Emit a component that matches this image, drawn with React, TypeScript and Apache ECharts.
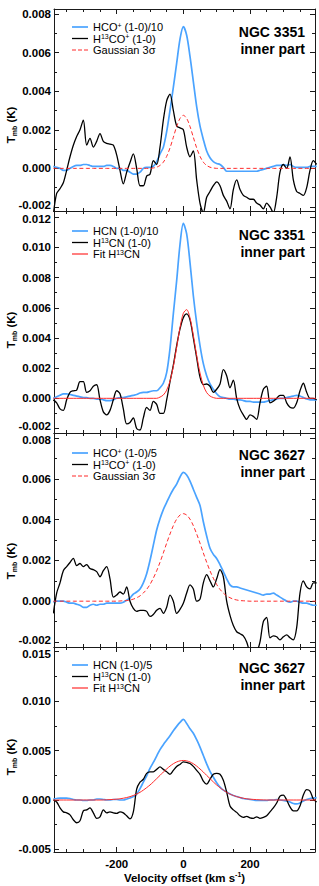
import React, { useEffect, useRef } from 'react';
import * as echarts from 'echarts';

// Velocity grid (km/s)
const VELOCITY = [
  -390, -380, -370, -360, -350, -340, -330, -320, -310, -300,
  -290, -280, -270, -260, -250, -240, -230, -220, -210, -200,
  -190, -180, -170, -160, -150, -140, -130, -120, -110, -100,
  -90, -80, -70, -60, -50, -40, -30, -20, -10, 0,
  10, 20, 30, 40, 50, 60, 70, 80, 90, 100,
  110, 120, 130, 140, 150, 160, 170, 180, 190, 200,
  210, 220, 230, 240, 250, 260, 270, 280, 290, 300,
  310, 320, 330, 340, 350, 360, 370, 380, 390, 400,
];

// Values in units of 0.001 K
// Panel 1: NGC 3351, HCO+ / H13CO+
const P1_HCOP = [
  0.1, 0.05, 0.0, -0.1, -0.1, 0.0, 0.1, 0.15, 0.15, 0.2,
  0.2, 0.15, 0.1, 0.1, 0.1, 0.1, 0.15, 0.15, 0.1, 0.0,
  0.0, -0.1, -0.1, -0.2, -0.3, -0.3, -0.2, 0.0, 0.05, 0.05,
  0.1, 0.35, 0.75, 1.1, 1.9, 3.0, 4.2, 5.45, 6.7, 7.35,
  6.9, 5.8, 4.5, 3.2, 2.2, 1.5, 0.9, 0.55, 0.35, 0.25,
  0.2, 0.05, -0.15, -0.15, -0.15, -0.15, -0.15, -0.15, -0.15, -0.15,
  -0.15, -0.15, -0.1, -0.05, 0.0, 0.05, 0.1, 0.15, 0.15, 0.2,
  0.15, 0.2, 0.1, 0.05, 0.05, 0.05, 0.05, 0.1, 0.1, 0.1,
];
const P1_H13COP = [
  -2.4, -1.3, -1.05, -0.75, -0.1, 0.6, 1.2, 1.65, 2.0, 2.5,
  1.2, 1.55, 1.1, 1.4, 1.8, 1.4, 1.3, 1.25, 1.2, 0.7,
  -0.1, -0.8, -0.2, 0.3, 0.75, 0.0, -0.9, -0.9, -0.4, -0.3,
  0.4, 0.2, 1.1, 2.5, 3.5, 3.85, 3.0, 2.2, 2.1, 2.0,
  1.1, 0.6, 0.9, -0.6, -1.8, -2.3, -1.5, -1.2, -0.9, -0.7,
  -0.9, -1.4, -1.7, -2.1, -1.1, -0.6, -1.1, -1.4, -1.5, -1.6,
  -1.6, -1.8, -1.9, -2.1, -1.8, -2.0, -2.3, -1.5, -0.2, 0.2,
  0.0, 0.6, -0.6, -1.2, -1.3, -1.4, -1.0, -0.1, 0.4, 0.2,
];
const P1_GAUSS = [
  0, 0, 0, 0, 0, 0, 0, 0, 0, 0,
  0, 0, 0, 0, 0, 0, 0, 0, 0, 0,
  0, 0, 0, 0, 0, 0, 0, 0, 0, 0,
  0.02, 0.06, 0.15, 0.32, 0.62, 1.06, 1.61, 2.17, 2.59, 2.75,
  2.59, 2.17, 1.61, 1.06, 0.62, 0.32, 0.15, 0.06, 0.02, 0,
  0, 0, 0, 0, 0, 0, 0, 0, 0, 0,
  0, 0, 0, 0, 0, 0, 0, 0, 0, 0,
  0, 0, 0, 0, 0, 0, 0, 0, 0, 0,
];

// Panel 2: NGC 3351, HCN / H13CN
const P2_HCN = [
  0.0, 0.1, 0.2, 0.3, 0.3, 0.25, 0.2, 0.15, 0.1, 0.05,
  0.05, 0.0, 0.0, -0.05, -0.05, -0.1, -0.15, -0.15, -0.1, 0.0,
  0.05, 0.05, 0.1, 0.15, 0.2, 0.25, 0.35, 0.4, 0.4, 0.45,
  0.5, 0.5, 0.7, 1.0, 1.7, 3.3, 5.6, 7.8, 10.2, 11.6,
  10.9, 9.0, 6.8, 5.0, 3.5, 2.3, 1.5, 0.95, 0.6, 0.3,
  0.1, 0.05, 0.0, -0.05, -0.05, -0.1, -0.1, -0.15, -0.2, -0.2,
  -0.25, -0.25, -0.25, -0.25, -0.2, -0.15, -0.1, -0.05, 0.0, 0.0,
  0.05, 0.1, 0.15, 0.2, 0.15, 0.05, -0.05, -0.1, -0.1, -0.1,
];
const P2_H13CN = [
  -0.1, -0.3, -0.7, -0.8, -0.1, 0.4, 0.5, 0.55, 1.1, 1.1,
  0.4, 0.5, 0.8, 0.9, -0.1, -0.9, -1.1, -0.8, -0.1, 0.5,
  0.3, -0.7, -1.7, -1.6, -1.3, -2.0, -2.1, -1.3, -0.6, -0.8,
  -0.2, -0.4, -1.0, -1.0, -0.1, 1.1, 2.2, 3.5, 4.6, 5.35,
  5.6, 5.2, 4.0, 2.7, 1.4, 0.9, 0.95, 0.8, 0.4, 0.6,
  0.95, 1.9, 1.5, 0.7, 1.2, 0.0, -0.7, -1.1, -1.4, -1.1,
  -1.2, -1.4, -0.3, 0.6, 0.8, -0.3, -0.2, 0.0, 0.2, 0.2,
  -0.3, -0.6, -0.65, -0.3, 0.5, 1.0, 0.4, 0.0, 0.0, -0.1,
];
const P2_FIT = [
  0, 0, 0, 0, 0, 0, 0, 0, 0, 0,
  0, 0, 0, 0, 0, 0, 0, 0, 0, 0,
  0, 0, 0, 0, 0, 0, 0, 0, 0, 0,
  0, 0, 0.08, 0.22, 0.54, 1.14, 2.11, 3.38, 4.68, 5.64,
  5.88, 5.33, 4.18, 2.85, 1.68, 0.86, 0.38, 0.15, 0.05, 0,
  0, 0, 0, 0, 0, 0, 0, 0, 0, 0,
  0, 0, 0, 0, 0, 0, 0, 0, 0, 0,
  0, 0, 0, 0, 0, 0, 0, 0, 0, 0,
];

// Panel 3: NGC 3627, HCO+ / H13CO+
const P3_HCOP = [
  -0.05, 0.0, 0.0, 0.0, -0.05, -0.1, -0.1, -0.15, -0.2, -0.3,
  -0.3, -0.2, -0.15, -0.2, -0.15, -0.15, -0.1, -0.1, -0.1, -0.1,
  -0.1, -0.05, 0.05, 0.15, 0.35, 0.45, 0.6, 0.9, 1.35, 2.0,
  2.75, 3.5, 4.05, 4.5, 4.85, 5.2, 5.5, 5.75, 6.1, 6.33,
  6.2, 5.9, 5.5, 5.1, 4.7, 3.9, 3.2, 2.6, 2.3, 2.1,
  1.8, 1.45, 1.1, 0.8, 0.7, 0.7, 0.65, 0.6, 0.55, 0.5,
  0.45, 0.4, 0.35, 0.3, 0.35, 0.35, 0.4, 0.3, 0.2, 0.1,
  0.0, -0.05, 0.0, 0.0, -0.05, -0.1, -0.1, -0.15, -0.2, -0.2,
];
const P3_H13COP = [
  -0.6, 0.4, 0.9, 1.5, 1.7, 1.9, 2.1, 1.75, 1.85, 1.7,
  1.8, 1.6, 1.55, 1.45, 1.2, 1.5, 1.7, 1.1, 0.2, 0.3,
  0.45, 0.35, 0.7, 0.0, -0.35, -0.5, -0.45, -0.45, -0.5, -0.75,
  -0.65, -0.45, -0.35, -0.6, -0.3, 0.3, 0.0, -0.6, -0.4, -0.1,
  0.4, 0.8, 0.6, 0.0, 0.1, 0.9, 1.3, 1.0, 0.7, 1.1,
  1.55, 1.2, 0.0, -0.7, -1.2, -1.5, -1.6, -1.7, -2.0, -2.5,
  -2.6, -2.5, -2.0, -1.0, -0.8, -1.8, -1.7, -1.75, -1.9, -1.75,
  -1.65, -1.8, -1.9, -1.3, 0.4, 1.0, 0.7, 0.6, 0.9, 0.9,
];
const P3_GAUSS = [
  0, 0, 0, 0, 0, 0, 0, 0, 0, 0,
  0, 0, 0, 0, 0, 0, 0, 0, 0, 0,
  0.01, 0.02, 0.03, 0.06, 0.1, 0.17, 0.26, 0.4, 0.58, 0.82,
  1.13, 1.49, 1.91, 2.37, 2.85, 3.3, 3.71, 4.03, 4.23, 4.3,
  4.23, 4.03, 3.71, 3.3, 2.85, 2.37, 1.91, 1.49, 1.13, 0.82,
  0.58, 0.4, 0.26, 0.17, 0.1, 0.06, 0.03, 0.02, 0.01, 0,
  0, 0, 0, 0, 0, 0, 0, 0, 0, 0,
  0, 0, 0, 0, 0, 0, 0, 0, 0, 0,
];

// Panel 4: NGC 3627, HCN / H13CN
const P4_HCN = [
  0.1, 0.15, 0.2, 0.2, 0.2, 0.15, 0.05, 0.0, 0.0, -0.05,
  -0.05, 0.0, 0.0, 0.1, 0.1, 0.05, 0.0, 0.0, 0.05, 0.05,
  0.0, 0.0, 0.1, 0.2, 0.35, 0.6, 1.15, 1.8, 2.45, 3.2,
  3.8, 4.45, 5.1, 5.6, 6.05, 6.5, 7.0, 7.45, 7.85, 8.15,
  7.75, 7.2, 6.75, 6.1, 5.35, 4.5, 3.65, 2.9, 2.3, 1.75,
  1.3, 1.0, 0.8, 0.6, 0.45, 0.35, 0.25, 0.15, 0.1, 0.05,
  0.0, -0.05, -0.05, -0.05, -0.05, 0.0, 0.0, 0.05, 0.0, -0.05,
  -0.1, -0.2, -0.35, -0.4, -0.3, -0.1, 0.05, 0.15, 0.2, 0.25,
];
const P4_H13CN = [
  0.0, -0.2, -0.8, -1.2, -1.3, -1.5, -2.0, -2.3, -2.1, -1.1,
  -1.0, -0.8, -1.3, -1.85, -1.7, -1.0, -1.3, -1.2, -1.3, -1.35,
  -1.2, -1.3, -1.6, -1.9, -1.2, 1.1, 1.8, 2.1, 2.7, 2.85,
  2.85, 3.1, 3.35, 3.1, 2.85, 2.6, 3.0, 3.4, 3.6, 3.85,
  3.8, 3.7, 3.4, 3.0, 2.6, 1.9, 1.6, 2.1, 2.6, 2.7,
  2.6, 2.0, 0.8, -0.6, -1.0, -1.25, -1.6, -1.75, -1.65, -1.8,
  -1.85, -1.7, -1.85, -1.75, -1.6, -1.2, -0.8, -0.3, 0.4, 0.5,
  0.0, -0.7, -1.1, -1.1, -0.6, 0.5, 1.05, 0.9, 0.1, -0.2,
];
const P4_FIT = [
  0, 0, 0, 0, 0, 0, 0, 0, 0, 0,
  0, 0, 0, 0, 0, 0.01, 0.02, 0.04, 0.06, 0.085,
  0.12, 0.18, 0.25, 0.34, 0.46, 0.6, 0.78, 1.0, 1.25, 1.52,
  1.83, 2.16, 2.49, 2.83, 3.14, 3.43, 3.67, 3.85, 3.96, 4.0,
  3.96, 3.85, 3.67, 3.43, 3.14, 2.83, 2.49, 2.16, 1.83, 1.52,
  1.25, 1.0, 0.78, 0.6, 0.46, 0.34, 0.25, 0.18, 0.12, 0.085,
  0.06, 0.04, 0.02, 0.01, 0, 0, 0, 0, 0, 0,
  0, 0, 0, 0, 0, 0, 0, 0, 0, 0,
];

// Tick values
const X_MAJOR_TICKS = [-200, 0, 200];
const X_MINOR_TICKS = [-350, -300, -250, -150, -100, -50, 50, 100, 150, 250, 300, 350];
const Y1_MAJOR = [-2, 0, 2, 4, 6, 8];
const Y1_MINOR = [-1, 1, 3, 5, 7];
const Y2_MAJOR = [-2, 0, 2, 4, 6, 8, 10, 12];
const Y2_MINOR = [-1, 1, 3, 5, 7, 9, 11];
const Y3_MAJOR = [-2, 0, 2, 4, 6, 8];
const Y3_MINOR = [-1, 1, 3, 5, 7];
const Y4_MAJOR = [-5, 0, 5, 10, 15];
const Y4_MINOR = [-2.5, 2.5, 7.5, 12.5];

const LEGEND_P1 = ['{n|HCO}{sup|+}{n| (1-0)/10}', '{n|H}{sup|13}{n|CO}{sup|+}{n| (1-0)}', '{n|Gaussian 3σ}'];
const LEGEND_P2 = ['{n|HCN (1-0)/10}', '{n|H}{sup|13}{n|CN (1-0)}', '{n|Fit H}{sup|13}{n|CN}'];
const LEGEND_P3 = ['{n|HCO}{sup|+}{n| (1-0)/5}', '{n|H}{sup|13}{n|CO}{sup|+}{n| (1-0)}', '{n|Gaussian 3σ}'];
const LEGEND_P4 = ['{n|HCN (1-0)/5}', '{n|H}{sup|13}{n|CN (1-0)}', '{n|Fit H}{sup|13}{n|CN}'];

const FONT = '"Liberation Sans", Arial, Helvetica, sans-serif';
const AX = '#1a1a1a';
const BLUE = '#4aa3ff';
const RED = '#ff2b2b';
const X_MIN = -388;
const X_MAX = 395;

const PANELS = [
  { top: 9, height: 202, yMin: -2.21, yMax: 8.26, major: Y1_MAJOR, minor: Y1_MINOR, blue: P1_HCOP, black: P1_H13COP, red: P1_GAUSS, dashed: true, legend: LEGEND_P1, galaxy: 'NGC 3351', legendY: 27, labelY: 32, titleY: 125 },
  { top: 211, height: 222, yMin: -2.3, yMax: 12.42, major: Y2_MAJOR, minor: Y2_MINOR, blue: P2_HCN, black: P2_H13CN, red: P2_FIT, dashed: false, legend: LEGEND_P2, galaxy: 'NGC 3351', legendY: 231, labelY: 235, titleY: 330 },
  { top: 433, height: 214, yMin: -2.25, yMax: 8.26, major: Y3_MAJOR, minor: Y3_MINOR, blue: P3_HCOP, black: P3_H13COP, red: P3_GAUSS, dashed: true, legend: LEGEND_P3, galaxy: 'NGC 3627', legendY: 453, labelY: 455, titleY: 561 },
  { top: 647, height: 205, yMin: -5.26, yMax: 15.48, major: Y4_MAJOR, minor: Y4_MINOR, blue: P4_HCN, black: P4_H13CN, red: P4_FIT, dashed: false, legend: LEGEND_P4, galaxy: 'NGC 3627', legendY: 665, labelY: 668, titleY: 757 },
];

const LABEL_STYLE = { fontFamily: FONT, fontWeight: 'bold', fontSize: 11.5, color: '#000' };

function makeOption() {
  const grid: any[] = [];
  const xAxis: any[] = [];
  const yAxis: any[] = [];
  const series: any[] = [];
  const graphic: any[] = [];
  const nPanels = PANELS.length;

  PANELS.forEach((p, i) => {
    grid.push({ left: 54, right: 4, top: p.top, height: p.height, containLabel: false });
    const isLast = i === nPanels - 1;
    const xa = (pos: string, ticks: number[], len: number, line: boolean, label: boolean) => ({
      type: 'value', gridIndex: i, position: pos, min: X_MIN, max: X_MAX,
      axisLine: { show: line, onZero: false, lineStyle: { color: AX, width: 1 } },
      axisTick: { show: true, inside: true, length: len, customValues: ticks, lineStyle: { color: AX, width: 1 } },
      axisLabel: label
        ? { show: true, customValues: ticks, margin: 6, formatter: (v: number) => String(v), ...LABEL_STYLE }
        : { show: false },
      splitLine: { show: false },
      ...(label
        ? {
            name: '{n|Velocity offset (km s}{sup|-1}{n|)}',
            nameLocation: 'middle',
            nameGap: 17,
            nameTextStyle: {
              rich: {
                n: { ...LABEL_STYLE, fontSize: 11.5, lineHeight: 14 },
                sup: { ...LABEL_STYLE, fontSize: 7, lineHeight: 8, verticalAlign: 'top' },
              },
            },
          }
        : {}),
    });
    xAxis.push(xa('bottom', X_MAJOR_TICKS, 5, true, isLast));
    xAxis.push(xa('bottom', X_MINOR_TICKS, 3, false, false));
    xAxis.push(xa('top', X_MAJOR_TICKS, 5, true, false));
    xAxis.push(xa('top', X_MINOR_TICKS, 3, false, false));

    const topVal = p.major[p.major.length - 1];
    const botVal = p.major[0];
    const yFormatter = (v: number) => {
      const s = (v / 1000).toFixed(3);
      if (v === topVal && i > 0) return `{top|${s}}`;
      if (v === botVal && i < nPanels - 1) return `{bot|${s}}`;
      return `{m|${s}}`;
    };
    const ya = (pos: string, ticks: number[], len: number, line: boolean, label: boolean) => ({
      type: 'value', gridIndex: i, position: pos, min: p.yMin, max: p.yMax,
      axisLine: { show: line, onZero: false, lineStyle: { color: AX, width: 1 } },
      axisTick: { show: true, inside: true, length: len, customValues: ticks, lineStyle: { color: AX, width: 1 } },
      axisLabel: label
        ? {
            show: true, customValues: ticks, margin: 3, formatter: yFormatter, ...LABEL_STYLE,
            rich: {
              m: { ...LABEL_STYLE, lineHeight: 11 },
              top: { ...LABEL_STYLE, lineHeight: 11, padding: [4, 0, 0, 0] },
              bot: { ...LABEL_STYLE, lineHeight: 11, padding: [0, 0, 4, 0] },
            },
          }
        : { show: false },
      splitLine: { show: false },
    });
    yAxis.push(ya('left', p.major, 5, true, true));
    yAxis.push(ya('left', p.minor, 3, false, false));
    yAxis.push(ya('right', p.major, 5, true, false));
    yAxis.push(ya('right', p.minor, 3, false, false));

    const base = { type: 'line', xAxisIndex: i * 4, yAxisIndex: i * 4, showSymbol: false, symbol: 'none', smooth: 0.3, clip: true, silent: true };
    series.push({ ...base, name: `p${i}-blue`, data: VELOCITY.map((v, k) => [v, p.blue[k]]), lineStyle: { color: BLUE, width: 1.7 }, z: 2 });
    series.push({ ...base, name: `p${i}-black`, data: VELOCITY.map((v, k) => [v, p.black[k]]), lineStyle: { color: '#000', width: 1.3 }, z: 3 });
    series.push({ ...base, name: `p${i}-red`, data: VELOCITY.map((v, k) => [v, p.red[k]]), lineStyle: { color: RED, width: 1, type: p.dashed ? [4, 2.5] : 'solid' }, z: 4 });

    // legend
    const colors = [BLUE, '#000', RED];
    p.legend.forEach((txt, r) => {
      const y = p.legendY + r * 11.5;
      graphic.push({
        type: 'line', shape: { x1: 72, y1: y, x2: 88, y2: y },
        style: { stroke: colors[r], lineWidth: r === 0 ? 1.7 : r === 1 ? 1.3 : 1.2, lineDash: r === 2 && p.dashed ? [4, 2] : null },
        silent: true,
      });
      graphic.push({
        type: 'text', x: 93, y,
        style: {
          text: txt, verticalAlign: 'middle', align: 'left',
          rich: {
            n: { fontFamily: FONT, fontSize: 11, color: '#000', lineHeight: 11 },
            sup: { fontFamily: FONT, fontSize: 7, color: '#000', lineHeight: 7, verticalAlign: 'top' },
          },
        },
        silent: true,
      });
    });
    // galaxy label
    graphic.push({
      type: 'text', x: 305, y: p.labelY,
      style: { text: p.galaxy, align: 'right', verticalAlign: 'middle', fontFamily: FONT, fontWeight: 'bold', fontSize: 14, fill: '#000' },
      silent: true,
    });
    graphic.push({
      type: 'text', x: 305, y: p.labelY + 16.7,
      style: { text: 'inner part', align: 'right', verticalAlign: 'middle', fontFamily: FONT, fontWeight: 'bold', fontSize: 14, fill: '#000' },
      silent: true,
    });
    // y title
    graphic.push({
      type: 'text', x: 11, y: p.titleY, rotation: Math.PI / 2,
      style: {
        text: '{t|T}{s|mb}{t| (K)}', align: 'center', verticalAlign: 'middle',
        rich: {
          t: { fontFamily: FONT, fontWeight: 'bold', fontSize: 11.5, color: '#000', lineHeight: 14 },
          s: { fontFamily: FONT, fontWeight: 'bold', fontSize: 7, color: '#000', lineHeight: 8, verticalAlign: 'bottom' },
        },
      },
      silent: true,
    });
  });

  return {
    animation: false,
    backgroundColor: '#ffffff',
    grid, xAxis, yAxis, series, graphic,
  };
}

export default function App() {
  const ref = useRef<HTMLDivElement>(null);
  useEffect(() => {
    document.body.style.margin = '0';
    if (!ref.current) return;
    const chart = echarts.init(ref.current, null, { renderer: 'svg' });
    chart.setOption(makeOption() as any);
    return () => chart.dispose();
  }, []);
  return <div ref={ref} style={{ position: 'absolute', left: 0, top: 0, width: 319, height: 886 }} />;
}
